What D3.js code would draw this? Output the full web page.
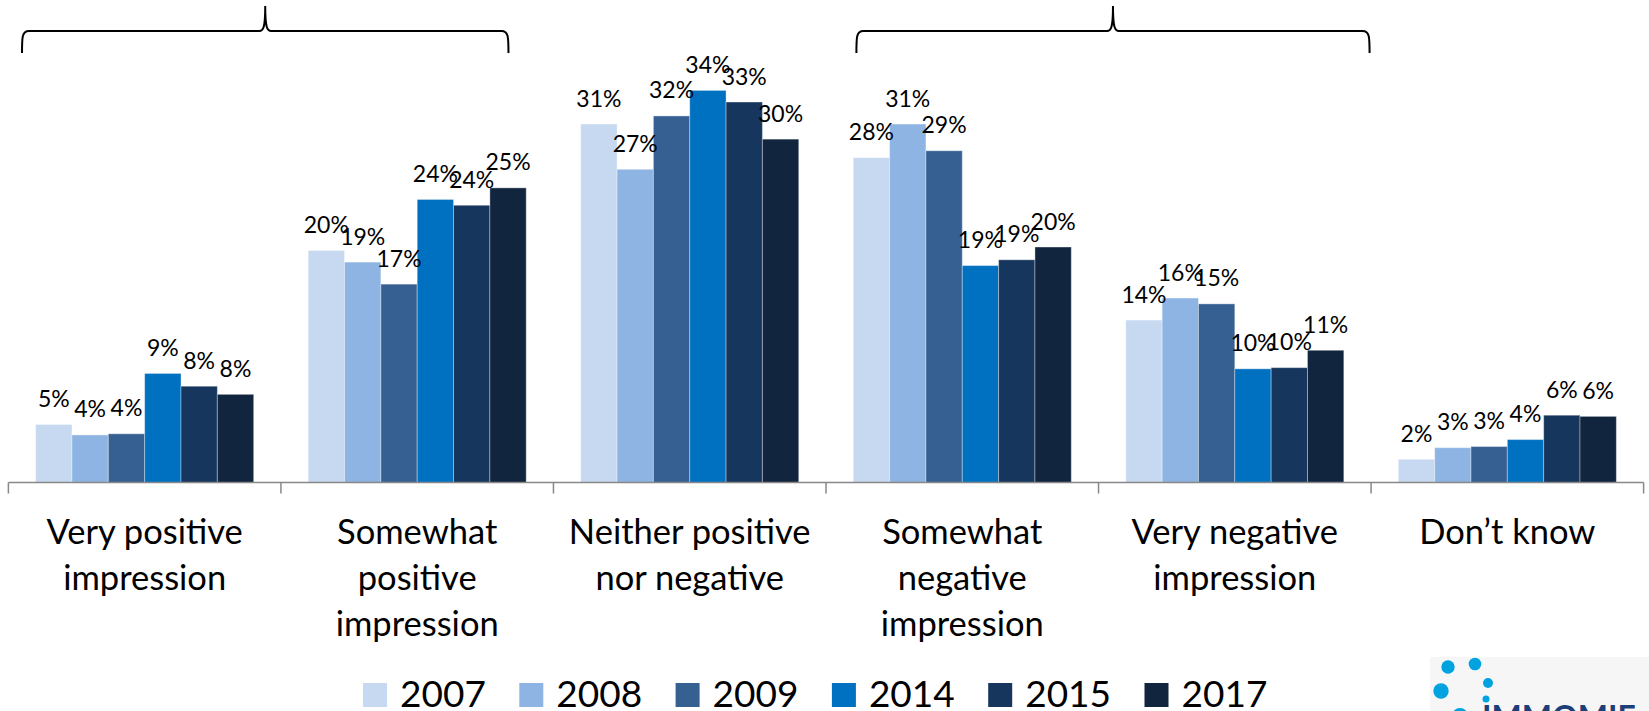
<!DOCTYPE html>
<html>
<head>
<meta charset="utf-8">
<script src="https://cdn.jsdelivr.net/npm/d3@7"></script>
<style>
  html, body { margin: 0; padding: 0; background: #fff; }
  svg { display: block; }
  text { font-family: Lato, "Open Sans", sans-serif; fill: #000; }
</style>
</head>
<body>
<script>
// ---- data ----
const categories = ["Very positive impression", "Somewhat positive impression", "Neither positive nor negative",
                    "Somewhat negative impression", "Very negative impression", "Don’t know"];
const categoryLines = [["Very positive", "impression"], ["Somewhat", "positive", "impression"],
                       ["Neither positive", "nor negative"], ["Somewhat", "negative", "impression"],
                       ["Very negative", "impression"], ["Don’t know"]];
const years = ["2007", "2008", "2009", "2014", "2015", "2017"];
const s2007 = [5.0, 20.0, 30.9, 28.0, 14.0, 2.0];
const s2008 = [4.1, 19.0, 27.0, 30.9, 15.9, 3.0];
const s2009 = [4.2, 17.1, 31.6, 28.6, 15.4, 3.1];
const s2014 = [9.4, 24.4, 33.8, 18.7, 9.8, 3.7];
const s2015 = [8.3, 23.9, 32.8, 19.2, 9.9, 5.8];
const s2017 = [7.6, 25.4, 29.6, 20.3, 11.4, 5.7];
const colors = ["#c6d9f0", "#8eb4e3", "#376092", "#0070c0", "#17365d", "#12253f"];

const series = [s2007, s2008, s2009, s2014, s2015, s2017];

const W = 1649, H = 711;
const svg = d3.select("body").append("svg").attr("width", W).attr("height", H);

const baseY = 482.5;
const x = d3.scaleBand().domain(categories).range([8.4, 1643.6]).paddingInner(0).paddingOuter(0);
const x1 = d3.scaleBand().domain(years).range([0, x.bandwidth()]).paddingInner(0).paddingOuter(0.75);
const y = d3.scaleLinear().domain([0, 35]).range([baseY, baseY - 35 * 11.6]);

// bars
const rows = [];
categories.forEach((c, ci) => years.forEach((yr, yi) => rows.push({ c, yr, yi, v: series[yi][ci] })));

const g = svg.append("g");
g.selectAll("rect.bar").data(rows).join("rect")
  .attr("class", "bar")
  .attr("x", d => x(d.c) + x1(d.yr))
  .attr("width", x1.bandwidth())
  .attr("y", d => y(d.v))
  .attr("height", d => baseY - y(d.v))
  .attr("fill", d => colors[d.yi])
  .attr("stroke", "rgba(255,255,255,0.35)")
  .attr("stroke-width", 1);

g.selectAll("text.lbl").data(rows).join("text")
  .attr("class", "lbl")
  .attr("x", d => x(d.c) + x1(d.yr) + x1.bandwidth() / 2)
  .attr("y", d => y(d.v) - 17.5)
  .attr("text-anchor", "middle")
  .style("font-size", "23px")
  .text(d => Math.round(d.v) + "%");

// axis
const axis = d3.axisBottom(x).tickSize(0).tickFormat("");
const ax = svg.append("g").attr("transform", `translate(0,${baseY})`).call(axis);
ax.select(".domain").attr("stroke", "#888").attr("stroke-width", 1.5).attr("d", `M${x.range()[0]},0H${x.range()[1]}`);
const bounds = categories.map(c => x(c)).concat([x.range()[1]]);
ax.selectAll("line.bnd").data(bounds).join("line").attr("class", "bnd")
  .attr("x1", d => d).attr("x2", d => d).attr("y1", 0).attr("y2", 11)
  .attr("stroke", "#888").attr("stroke-width", 1.5);

// category labels
const cl = svg.append("g");
categories.forEach((c, ci) => {
  const t = cl.append("text").attr("text-anchor", "middle").style("font-size", "34.5px");
  categoryLines[ci].forEach((ln, li) => {
    t.append("tspan").attr("x", x(c) + x.bandwidth() / 2).attr("y", 544 + li * 46).text(ln);
  });
});

// braces
function brace(l, r, top, mid, bot) {
  const t = (l + r) / 2;
  return `M${l},${bot} C${l},${mid + 6} ${l},${mid} ${l + 7},${mid} H${t - 6} C${t - 2},${mid} ${t},${mid - 3} ${t},${top}` +
         ` C${t},${mid - 3} ${t + 2},${mid} ${t + 6},${mid} H${r - 7} C${r},${mid} ${r},${mid + 6} ${r},${bot}`;
}
const braceSpans = [[0, 1, 13.6, -45], [3, 4, 30.4, -1.5]];
svg.append("g").selectAll("path").data(braceSpans).join("path")
  .attr("d", d => brace(x(categories[d[0]]) + d[2], x(categories[d[1]]) + x.bandwidth() + d[3], 6, 31, 53))
  .attr("fill", "none").attr("stroke", "#000").attr("stroke-width", 2);

// legend
const lg = svg.append("g");
years.forEach((yr, i) => {
  const lx = 363 + i * 156.3;
  lg.append("rect").attr("x", lx).attr("y", 683).attr("width", 24).attr("height", 24).attr("fill", colors[i]);
  lg.append("text").attr("x", lx + 37).attr("y", 707).style("font-size", "37px").text(yr);
});

// logo fragment (bottom right)
const logo = svg.append("g");
logo.append("rect").attr("x", 1430).attr("y", 657).attr("width", 219).attr("height", 54).attr("fill", "#f6f6f6");
const dots = [[1448, 667, 6.7], [1475, 664, 6.3], [1488, 683, 5], [1441, 691, 7.7], [1486, 699, 3.5], [1460, 716, 8]];
logo.selectAll("circle").data(dots).join("circle")
  .attr("cx", d => d[0]).attr("cy", d => d[1]).attr("r", d => d[2]).attr("fill", "#00a3e0");
logo.append("text").attr("x", 1482).attr("y", 729).style("font-size", "32px").style("font-weight", "bold")
  .style("fill", "#1d3f78").text("IMMOMIE");
</script>
</body>
</html>
